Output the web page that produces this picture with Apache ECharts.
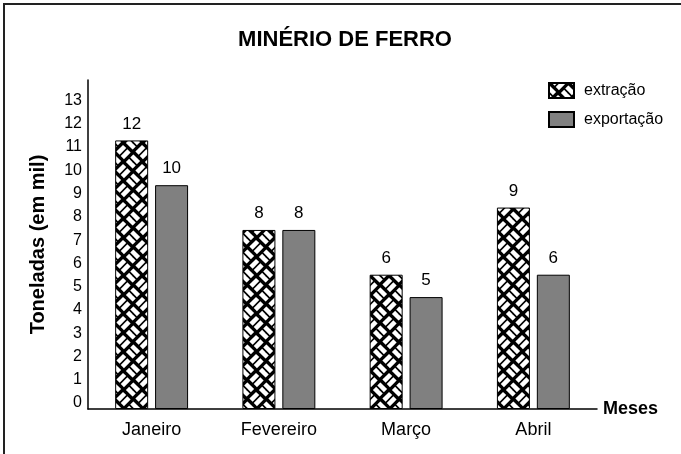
<!DOCTYPE html>
<html>
<head>
<meta charset="utf-8">
<script src="https://cdn.jsdelivr.net/npm/echarts@6/dist/echarts.min.js"></script>
<style>html,body{margin:0;padding:0;background:#fff;}#c{width:681px;height:454px;}</style>
</head>
<body>
<div id="c"></div>
<script>
const categories = ['Janeiro', 'Fevereiro', 'Março', 'Abril'];
const extracao = [12, 8, 6, 9];
const exportacao = [10, 8, 5, 6];
const yTickLabels = [0, 1, 2, 3, 4, 5, 6, 7, 8, 9, 10, 11, 12, 13];
const seriesNames = ['extração', 'exportação'];

function makeWeave(p) {
  const cv = document.createElement('canvas');
  cv.width = p; cv.height = p;
  const g = cv.getContext('2d');
  g.fillStyle = '#000';
  g.fillRect(0, 0, p, p);
  const c = p / Math.SQRT2;
  g.save();
  g.rotate(Math.PI / 4);
  g.fillStyle = '#fff';
  const m = c * 0.1, w = c * 0.34, gap = c * 0.12, e = c * 0.15;
  for (let i = -6; i <= 6; i++) {
    for (let j = -6; j <= 6; j++) {
      const x = i * c, y = j * c;
      const horiz = (((i + j) % 2) + 2) % 2 === 0;
      if (horiz) {
        g.fillRect(x + e, y + m, c - 2 * e, w);
        g.fillRect(x + e, y + m + w + gap, c - 2 * e, w);
      } else {
        g.fillRect(x + m, y + e, w, c - 2 * e);
        g.fillRect(x + m + w + gap, y + e, w, c - 2 * e);
      }
    }
  }
  g.restore();
  return cv;
}
const weave = makeWeave(19);
const FF = "'Liberation Sans', Arial, sans-serif";

const chart = echarts.init(document.getElementById('c'), null, {renderer: 'canvas'});
chart.setOption({
  animation: false,
  backgroundColor: '#fff',
  textStyle: {fontFamily: FF, color: '#000'},
  graphic: [
    {type: 'line', shape: {x1: 4, y1: 3, x2: 4, y2: 454}, style: {stroke: '#222', lineWidth: 2}},
    {type: 'line', shape: {x1: 3, y1: 4, x2: 681, y2: 4}, style: {stroke: '#222', lineWidth: 2}},
    {type: 'text', x: 345, y: 40, style: {text: 'MINÉRIO DE FERRO', font: "bold 22px 'Liberation Sans', Arial, sans-serif", fill: '#000', textAlign: 'center', textVerticalAlign: 'middle'}}
  ],
  legend: {
    orient: 'vertical',
    left: 548, top: 82,
    padding: 0,
    itemWidth: 25, itemHeight: 15,
    itemGap: 12,
    icon: 'rect',
    data: seriesNames,
    textStyle: {fontFamily: FF, fontSize: 16, color: '#000', padding: [0, 0, 0, 5]}
  },
  grid: {left: 88, right: 84, top: 80, bottom: 45, containLabel: false},
  xAxis: {
    type: 'category',
    data: categories,
    axisLine: {lineStyle: {color: '#000', width: 1.5}},
    axisTick: {show: false},
    axisLabel: {fontFamily: FF, fontSize: 18, color: '#000', margin: 12},
    name: 'Meses',
    nameLocation: 'end',
    nameGap: 6,
    nameTextStyle: {fontFamily: FF, fontSize: 18, fontWeight: 'bold', color: '#000', verticalAlign: 'middle'}
  },
  yAxis: [
    {
      type: 'value', min: 0, max: 14.7,
      axisLine: {show: true, lineStyle: {color: '#000', width: 1.5}},
      axisTick: {show: false},
      axisLabel: {show: false},
      splitLine: {show: false}
    },
    {
      type: 'value', min: -0.258, max: 13.88,
      position: 'left', offset: 0,
      axisLine: {show: false},
      axisTick: {show: false},
      splitLine: {show: false},
      axisLabel: {fontFamily: FF, fontSize: 16, color: '#000', margin: 6, customValues: yTickLabels},
      name: 'Toneladas (em mil)',
      nameLocation: 'middle',
      nameRotate: 90,
      nameGap: 40,
      nameTextStyle: {fontFamily: FF, fontSize: 20, fontWeight: 'bold', color: '#000'}
    }
  ],
  series: [
    {
      name: seriesNames[0], type: 'bar', data: extracao, yAxisIndex: 0,
      barWidth: 33, barGap: '21%',
      itemStyle: {color: {image: weave, repeat: 'repeat'}, borderColor: '#000', borderWidth: 1},
      label: {show: true, position: 'top', distance: 8, fontFamily: FF, fontSize: 17, color: '#000'}
    },
    {
      name: seriesNames[1], type: 'bar', data: exportacao, yAxisIndex: 0,
      barWidth: 33, barGap: '21%',
      itemStyle: {color: '#808080', borderColor: '#000', borderWidth: 1},
      label: {show: true, position: 'top', distance: 8, fontFamily: FF, fontSize: 17, color: '#000'}
    }
  ]
});
</script>
</body>
</html>
